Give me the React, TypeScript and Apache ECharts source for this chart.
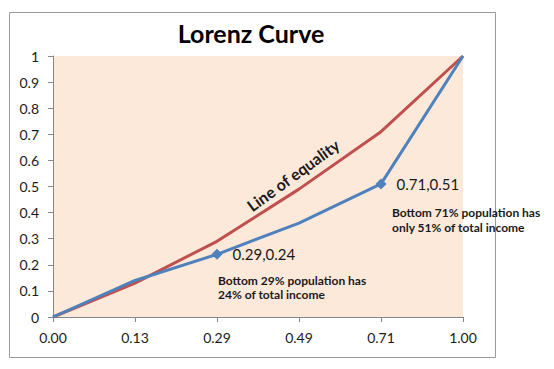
import React, { useEffect, useRef } from "react";
import * as echarts from "echarts";

const categories = ["0.00", "0.13", "0.29", "0.49", "0.71", "1.00"];
const equalityValues = [0, 0.13, 0.29, 0.49, 0.71, 1];
const lorenzValues = [0, 0.14, 0.24, 0.36, 0.51, 1];
const markedIndices = [2, 4];
const yMin = 0;
const yMax = 1;
const yInterval = 0.1;

const FONT = "Lato";

export default function App() {
  const ref = useRef<HTMLDivElement>(null);

  useEffect(() => {
    document.body.style.margin = "0";
    if (!ref.current) return;
    const chart = echarts.init(ref.current, undefined, { renderer: "svg" });

    const lorenzData = lorenzValues.map((v, i) =>
      markedIndices.includes(i)
        ? {
            value: v,
            symbol: "diamond",
            symbolSize: 11,
            label: {
              show: true,
              position: "right",
              distance: 10,
              formatter: `${categories[i]},${v.toFixed(2)}`,
              fontFamily: FONT,
              fontSize: 15,
              color: "#1a1a1a",
            },
          }
        : { value: v, symbol: "none" }
    );

    const note = (text: string, x: number, y: number) => ({
      type: "text",
      z: 10,
      x,
      y,
      style: {
        text,
        fontFamily: FONT,
        fontWeight: "bold",
        fontSize: 12,
        fill: "#1a1a1a",
        align: "left",
        verticalAlign: "middle",
      },
    });

    chart.setOption({
      animation: false,
      backgroundColor: "#ffffff",
      grid: {
        left: 53,
        top: 56,
        right: 91,
        bottom: 52,
        show: true,
        backgroundColor: "#FDE9D9",
        borderWidth: 0,
      },
      xAxis: {
        type: "category",
        data: categories,
        boundaryGap: false,
        axisLine: { lineStyle: { color: "#868686", width: 1 } },
        axisTick: { show: true, length: 5, lineStyle: { color: "#868686" } },
        axisLabel: {
          fontFamily: FONT,
          fontSize: 14,
          color: "#1a1a1a",
          margin: 13,
        },
        splitLine: { show: false },
      },
      yAxis: {
        type: "value",
        min: yMin,
        max: yMax,
        interval: yInterval,
        axisLine: { show: true, lineStyle: { color: "#868686", width: 1 } },
        axisTick: { show: true, length: 5, lineStyle: { color: "#868686" } },
        axisLabel: {
          fontFamily: FONT,
          fontSize: 14,
          color: "#1a1a1a",
          margin: 14,
        },
        splitLine: { show: false },
      },
      series: [
        {
          name: "Line of equality",
          type: "line",
          data: equalityValues,
          showSymbol: false,
          symbol: "none",
          lineStyle: { color: "#C0504D", width: 3 },
          itemStyle: { color: "#C0504D" },
          z: 2,
        },
        {
          name: "Lorenz curve",
          type: "line",
          data: lorenzData,
          showSymbol: true,
          lineStyle: { color: "#4F81BD", width: 3 },
          itemStyle: { color: "#4F81BD" },
          z: 3,
        },
      ],
      graphic: [
        {
          type: "rect",
          z: -1,
          silent: true,
          shape: { x: 9.5, y: 12.5, width: 486, height: 345 },
          style: { fill: "none", stroke: "#9a9a9a", lineWidth: 1 },
        },
        {
          type: "text",
          z: 10,
          x: 251,
          y: 33,
          style: {
            text: "Lorenz Curve",
            fontFamily: FONT,
            fontWeight: "bold",
            fontSize: 25,
            fill: "#000000",
            align: "center",
            verticalAlign: "middle",
          },
        },
        {
          type: "text",
          z: 10,
          x: 293,
          y: 175,
          rotation: (36 * Math.PI) / 180,
          style: {
            text: "Line of equality",
            fontFamily: FONT,
            fontWeight: "bold",
            fontSize: 16,
            fill: "#1a1a1a",
            align: "center",
            verticalAlign: "middle",
          },
        },
        note("Bottom 29% population has", 218, 280),
        note("24% of total income", 218, 294),
        note("Bottom 71% population has", 392, 212),
        note("only 51% of total income", 392, 227),
      ],
    });

    return () => chart.dispose();
  }, []);

  return <div ref={ref} style={{ width: 554, height: 369 }} />;
}
